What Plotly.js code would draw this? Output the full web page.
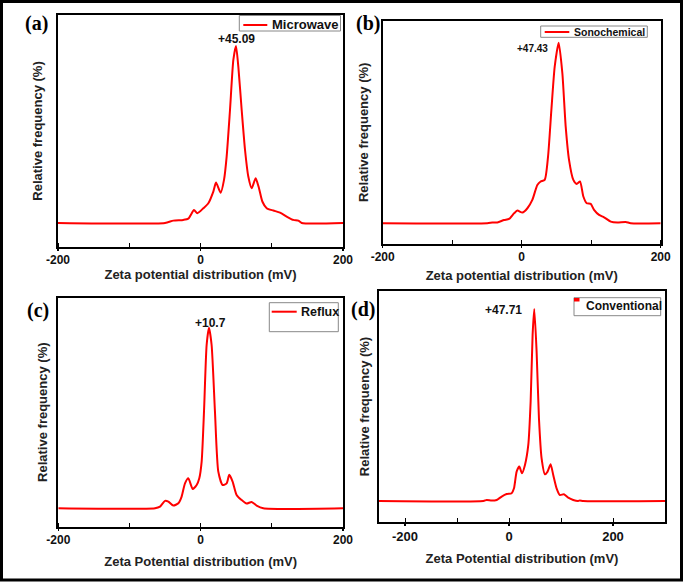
<!DOCTYPE html>
<html>
<head>
<meta charset="utf-8">
<script src="https://cdn.plot.ly/plotly-3.0.1.min.js"></script>
<style>html,body{margin:0;padding:0;background:#fff}#chart{width:685px;height:583px}</style>
</head>
<body>
<div id="chart"></div>
<script>
// ---- data ----
const seriesNames = ['Microwave', 'Sonochemical', 'Reflux', 'Conventional'];
const panelLabels = ['(a)', '(b)', '(c)', '(d)'];
const peakLabels = ['+45.09', '+47.43', '+10.7', '+47.71'];
const xTitles = ['Zeta potential distribution (mV)', 'Zeta potential distribution (mV)',
                 'Zeta Potential distribution (mV)', 'Zeta Potential distribution (mV)'];
const yTitle = 'Relative frequency (%)';
const tickValues = [-200, 0, 200];
const tickLabels = ['-200', '0', '200'];

const xMicrowave = [-200, -49.8, -38.1, -24.1, -17.1, -9.1, -4.4, 4.0, 11.0, 18.0, 21.8, 28.3, 33.0, 36.7, 41.4, 46.1, 49.8, 53.1, 57.8, 62.5, 67.1, 71.8, 77.4, 82.1, 86.8, 92.9, 102.3, 111.6, 121.0, 130.3, 137.3, 142.0, 200];
const yMicrowave = [0, 0, 1.3, 1.7, 2.4, 7.3, 5.5, 8.3, 11.1, 17.7, 22.8, 17.1, 24.3, 37.5, 63.8, 92.1, 100, 88.3, 63.8, 41.2, 26.2, 19.6, 25.2, 19.6, 12.1, 8.3, 7.0, 5.8, 3.6, 1.7, 1.3, 0, 0];

const xSono = [-200, -49.4, -42.2, -35, -25.4, -18.2, -11.0, -6.2, 1.0, 8.2, 15.3, 22.5, 27.3, 33.1, 37.9, 42.7, 47.5, 53.2, 58.5, 63.3, 68.1, 74.3, 79.1, 83.9, 88.7, 93.5, 99.3, 104.1, 111.3, 118.5, 128.1, 137.6, 149.6, 156.8, 200];
const ySono = [0, 0, 0.4, 0.4, 1.8, 2.4, 5.5, 7.0, 5.9, 8.3, 12.9, 21.2, 23.1, 24.0, 36.9, 62.8, 86.7, 100, 83.1, 53.5, 35.1, 24.0, 21.8, 23.1, 14.8, 11.1, 10.7, 7.4, 4.6, 3.3, 0.9, 0.4, 0.7, 0, 0];

const xReflux = [-200, -64.1, -57.1, -50.1, -45.4, -38.4, -31.3, -26.7, -22.0, -17.3, -11.2, -5.6, -1.9, 1.4, 4.7, 8.4, 11.7, 15.4, 20.1, 24.8, 30.9, 36.5, 40.2, 44.9, 50.5, 57.5, 64.6, 71.6, 78.6, 88.0, 200];
const yReflux = [0, 0, 0.9, 4.1, 3.7, 1.5, 2.8, 6.5, 13.8, 16.6, 10.7, 12.9, 16.6, 25.8, 53.5, 90.4, 100, 90.4, 53.5, 20.3, 12.9, 13.8, 18.5, 14.8, 7.4, 4.6, 2.6, 3.5, 1.5, 0, 0];

const xConv = [-250, -49.3, -42.9, -33.3, -23.7, -14.1, -4.5, 5.1, 9.6, 14.7, 19.8, 24.9, 30.7, 37.1, 41.6, 45.4, 48.6, 53.1, 57.6, 62.7, 69.1, 74.2, 80.0, 85.1, 91.5, 97.9, 105.6, 113.9, 123.5, 133.1, 136.3, 142.7, 300];
const yConv = [0, 0, 0.5, 0.2, 0.5, 2.3, 3.6, 4.0, 6.6, 15.3, 17.9, 14.4, 18.8, 29.2, 51.7, 86.5, 100, 77.8, 43.1, 22.2, 13.9, 15.3, 19.1, 13.5, 6.6, 3.1, 3.5, 1.7, 0.5, 0, 0.3, 0, 0];

// ---- layout helpers ----
const W = 685, H = 583;
const px = v => v / W;
const py = v => 1 - v / H;
const FONT = 'Liberation Sans, Arial, sans-serif';
const RED = '#ff0000';

// legend geometry: box [x0,x1,y0,y1], symbol [x0,x1,y], text left x, font size, weight, marker style
const panels = [
  {x: xMicrowave, y: yMicrowave, dom: [58, 343, 15, 247], xr: [-200, 200], yr: [-13.6, 117.5],
   xs: 2, ys: 10, tf: 12, lab: [36.5, 23], ann: [1, 7], af: 12,
   box: [239.3, 340.5, 15.5, 31], sym: [243.3, 267.3, 25], tx: 270, lf: 13, lw: 'bold'},
  {x: xSono, y: ySono, dom: [382.7, 660.7, 20.7, 244], xr: [-200, 200], yr: [-11.5, 112.2],
   xs: 7, ys: 9, tf: 12, lab: [368.3, 23.3], ann: [-26, -5.6], af: 10,
   box: [540.7, 647.3, 26, 37.3], sym: [544.7, 569.3, 32], tx: 571.5, lf: 10.5, lw: 'bold'},
  {x: xReflux, y: yReflux, dom: [58.3, 343, 297.7, 526.7], xr: [-200, 200], yr: [-10.2, 116.6],
   xs: 11, ys: 6, tf: 12, lab: [38, 310], ann: [1.7, 4.4], af: 12,
   box: [269.3, 338.3, 302.7, 331.7], sym: [271.7, 296.7, 311.7], tx: 299, lf: 12.5, lw: 'bold'},
  {x: xConv, y: yConv, dom: [379, 665, 290.7, 522.3], xr: [-250, 300], yr: [-11.1, 109.5],
   xs: 11, ys: 4, tf: 13, lab: [363, 309], ann: [-31, -1], af: 12,
   box: [574, 660.7, 297.7, 315.7], sym: null, tx: 583.5, lf: 12, lw: 'bold', mk: [574, 579.5, 298, 301.5]}
];

const data = [];
const layout = {
  width: W, height: H,
  margin: {l: 0, r: 0, t: 0, b: 0},
  paper_bgcolor: '#fff', plot_bgcolor: '#fff',
  showlegend: false,
  annotations: [],
  shapes: [{type: 'rect', xref: 'paper', yref: 'paper',
            x0: px(1.5), x1: px(681.5), y0: py(580), y1: py(1.5),
            line: {color: '#000', width: 3}}]
};

panels.forEach((p, i) => {
  const n = i === 0 ? '' : String(i + 1);
  const xa = 'xaxis' + n, ya = 'yaxis' + n;
  const xr = 'x' + n, yr = 'y' + n;
  data.push({
    type: 'scatter', mode: 'lines', x: p.x, y: p.y, xaxis: xr, yaxis: yr,
    name: seriesNames[i],
    line: {color: RED, width: 2, shape: 'spline', smoothing: 0.6},
    hoverinfo: 'skip'
  });
  layout[xa] = {
    domain: [px(p.dom[0]), px(p.dom[1])], range: p.xr, anchor: yr,
    tickmode: 'array', tickvals: tickValues, ticktext: tickLabels,
    ticks: 'outside', ticklen: 2, tickwidth: 1.5, tickcolor: '#000',
    ticklabelstandoff: -1,
    minor: {dtick: 100, tick0: 0, ticks: 'inside', ticklen: 4, tickwidth: 1, tickcolor: '#000'},
    showline: true, linecolor: '#000', linewidth: 2, mirror: true,
    showgrid: false, zeroline: false,
    tickfont: {family: FONT, size: p.tf, weight: 'bold', color: '#111'},
    title: {text: xTitles[i], standoff: p.xs, font: {family: FONT, size: 13, weight: 'bold', color: '#222'}}
  };
  layout[ya] = {
    domain: [py(p.dom[3]), py(p.dom[2])], range: p.yr, anchor: xr,
    showticklabels: false, ticks: '',
    showline: true, linecolor: '#000', linewidth: 2, mirror: true,
    showgrid: false, zeroline: false,
    title: {text: yTitle, standoff: p.ys, font: {family: FONT, size: 13, weight: 'bold', color: '#222'}}
  };
  // legend box, symbol and name
  layout.shapes.push({type: 'rect', xref: 'paper', yref: 'paper',
    x0: px(p.box[0]), x1: px(p.box[1]), y0: py(p.box[3]), y1: py(p.box[2]),
    fillcolor: '#fff', line: {color: '#888', width: 1}});
  if (p.sym) {
    layout.shapes.push({type: 'line', xref: 'paper', yref: 'paper',
      x0: px(p.sym[0]), x1: px(p.sym[1]), y0: py(p.sym[2]), y1: py(p.sym[2]),
      line: {color: RED, width: 2}});
  }
  if (p.mk) {
    layout.shapes.push({type: 'rect', xref: 'paper', yref: 'paper',
      x0: px(p.mk[0]), x1: px(p.mk[1]), y0: py(p.mk[3]), y1: py(p.mk[2]),
      fillcolor: RED, line: {width: 0}});
  }
  const ty = p.sym ? p.sym[2] : (p.box[2] + p.box[3]) / 2 - 1;
  layout.annotations.push({
    xref: 'paper', yref: 'paper', x: px(p.tx), y: py(ty), text: seriesNames[i],
    showarrow: false, xanchor: 'left', yanchor: 'middle',
    font: {family: FONT, size: p.lf, weight: p.lw, color: '#111'}
  });
  // peak label at the series maximum
  let k = 0;
  p.y.forEach((v, j) => { if (v > p.y[k]) k = j; });
  layout.annotations.push({
    xref: xr, yref: yr, x: p.x[k], y: p.y[k], text: peakLabels[i], showarrow: false,
    xanchor: 'center', yanchor: 'middle', xshift: p.ann[0], yshift: p.ann[1],
    font: {family: FONT, size: p.af, weight: 'bold', color: '#111'}
  });
  // panel letter
  layout.annotations.push({
    xref: 'paper', yref: 'paper', x: px(p.lab[0]), y: py(p.lab[1]), text: panelLabels[i],
    showarrow: false, xanchor: 'center', yanchor: 'middle',
    font: {family: 'Liberation Serif, Times New Roman, serif', size: 20, weight: 'bold', color: '#000'}
  });
});

Plotly.newPlot('chart', data, layout, {staticPlot: true, displayModeBar: false});
</script>
</body>
</html>
